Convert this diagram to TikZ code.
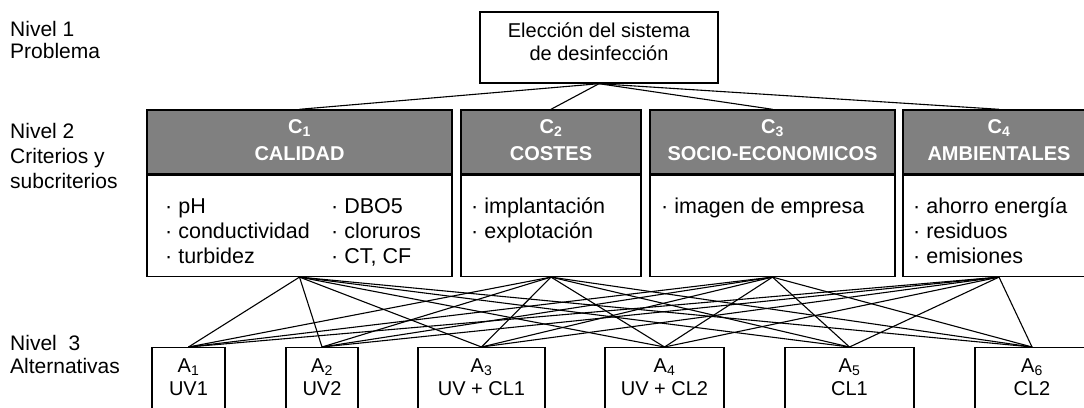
\documentclass[tikz,border=0pt]{standalone}
\usepackage{fontspec}
\setmainfont{Liberation Sans}
\begin{document}
\begin{tikzpicture}[x=1pt,y=-1pt,
  box/.style={draw,line width=1.4pt,inner sep=0pt},
  altbox/.style={draw,line width=1.1pt,inner sep=0pt,minimum height=80,anchor=north},
  txt/.style={inner sep=0pt,align=left,anchor=base west,font=\fontsize{21.5}{25}\selectfont},
  headtxt/.style={inner sep=0pt,align=center,anchor=base,text=white,font=\bfseries\fontsize{20}{27}\selectfont},
  alttxt/.style={inner sep=0pt,align=center,anchor=base,font=\fontsize{20}{23}\selectfont},
  link/.style={line width=1.1pt}]
\clip (0,0) rectangle (1084,407);
% niveles (base = ultima linea)
\node[txt,font=\fontsize{21}{22}\selectfont] (lev1) at (10,58) {Nivel 1\\Problema};
\node[txt,font=\fontsize{21}{25}\selectfont] (lev2) at (10,188) {Nivel 2\\Criterios y\\subcriterios};
\node[txt,font=\fontsize{21}{23}\selectfont] (lev3) at (10,373) {Nivel\ \ 3\\Alternativas};
% problema
\node[box,minimum width=238,minimum height=71] (prob) at (599,47.5) {};
\node[alttxt] (probtxt) at (599,60) {Elección del sistema\\de desinfección};
% criterios
\node[box,fill=gray,minimum width=305,minimum height=64] (h1) at (299.5,142) {};
\node[box,fill=gray,minimum width=180,minimum height=64] (h2) at (551,142) {};
\node[box,fill=gray,minimum width=245,minimum height=64] (h3) at (772.5,142) {};
\node[box,fill=gray,minimum width=192,minimum height=64] (h4) at (999,142) {};
\node[box,minimum width=305,minimum height=101,anchor=north] (c1) at (h1.south) {};
\node[box,minimum width=180,minimum height=101,anchor=north] (c2) at (h2.south) {};
\node[box,minimum width=245,minimum height=101,anchor=north] (c3) at (h3.south) {};
\node[box,minimum width=192,minimum height=101,anchor=north] (c4) at (h4.south) {};
\node[headtxt] (h1txt) at (299.5,160) {C\textsubscript{1}\\CALIDAD};
\node[headtxt] (h2txt) at (551,160) {C\textsubscript{2}\\COSTES};
\node[headtxt] (h3txt) at (772.5,160) {C\textsubscript{3}\\SOCIO-ECONOMICOS};
\node[headtxt] (h4txt) at (999,160) {C\textsubscript{4}\\AMBIENTALES};
\node[txt] (c1left) at (165,263) {· pH\\· conductividad\\· turbidez};
\node[txt] (c1right) at (331,263) {· DBO5\\· cloruros\\· CT, CF};
\node[txt] (c2txt) at (471,238) {· implantación\\· explotación};
\node[txt] (c3txt) at (661,213) {· imagen de empresa};
\node[txt] (c4txt) at (913,263) {· ahorro energía\\· residuos\\· emisiones};
% alternativas
\node[altbox,minimum width=73] (a1) at (188.5,347) {};
\node[altbox,minimum width=72] (a2) at (322,347) {};
\node[altbox,minimum width=127] (a3) at (481.5,347) {};
\node[altbox,minimum width=119] (a4) at (664.5,347) {};
\node[altbox,minimum width=129] (a5) at (849.5,347) {};
\node[altbox,minimum width=114] (a6) at (1032,347) {};
\node[alttxt] (a1txt) at (188.5,395) {A\textsubscript{1}\\UV1};
\node[alttxt] (a2txt) at (322,395) {A\textsubscript{2}\\UV2};
\node[alttxt] (a3txt) at (481.5,395) {A\textsubscript{3}\\UV + CL1};
\node[alttxt] (a4txt) at (664.5,395) {A\textsubscript{4}\\UV + CL2};
\node[alttxt] (a5txt) at (849.5,395) {A\textsubscript{5}\\CL1};
\node[alttxt] (a6txt) at (1032,395) {A\textsubscript{6}\\CL2};
% conexiones
\draw[link] (prob.south) -- (h1.north);
\draw[link] (prob.south) -- (h2.north);
\draw[link] (prob.south) -- (h3.north);
\draw[link] (prob.south) -- (h4.north);
\draw[link] (c1.south) -- (a1.north);
\draw[link] (c1.south) -- (a2.north);
\draw[link] (c1.south) -- (a3.north);
\draw[link] (c1.south) -- (a4.north);
\draw[link] (c1.south) -- (a5.north);
\draw[link] (c1.south) -- (a6.north);
\draw[link] (c2.south) -- (a1.north);
\draw[link] (c2.south) -- (a2.north);
\draw[link] (c2.south) -- (a3.north);
\draw[link] (c2.south) -- (a4.north);
\draw[link] (c2.south) -- (a5.north);
\draw[link] (c2.south) -- (a6.north);
\draw[link] (c3.south) -- (a1.north);
\draw[link] (c3.south) -- (a2.north);
\draw[link] (c3.south) -- (a3.north);
\draw[link] (c3.south) -- (a4.north);
\draw[link] (c3.south) -- (a5.north);
\draw[link] (c3.south) -- (a6.north);
\draw[link] (c4.south) -- (a1.north);
\draw[link] (c4.south) -- (a2.north);
\draw[link] (c4.south) -- (a3.north);
\draw[link] (c4.south) -- (a4.north);
\draw[link] (c4.south) -- (a5.north);
\draw[link] (c4.south) -- (a6.north);
\end{tikzpicture}
\end{document}
